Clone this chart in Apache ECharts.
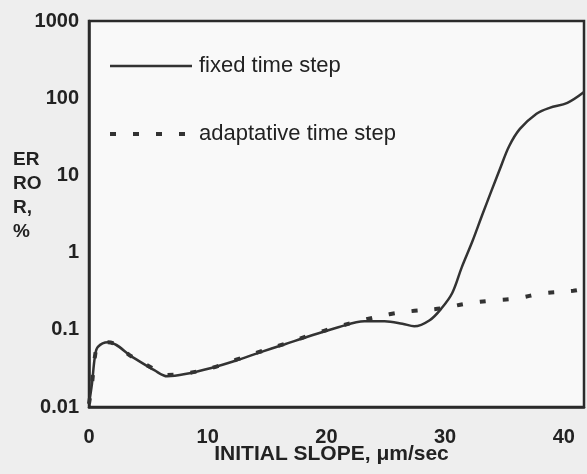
<!DOCTYPE html>
<html>
<head>
<meta charset="utf-8">
<title>Error vs initial slope</title>
<script src="https://cdn.jsdelivr.net/npm/echarts@6/dist/echarts.min.js"></script>
<style>
  html, body { margin: 0; padding: 0; background: #eeeeee; }
  #chart { width: 587px; height: 474px; }
</style>
</head>
<body>
<div id="chart"></div>
<script>
// Relative error (%) against initial slope (µm/sec) for two integration schemes
const seriesNames = ['fixed time step', 'adaptative time step'];

const slopeFixed = [0, 0.25, 0.5, 0.75, 1.6, 3.7, 5.5, 6.6, 8.1, 10.3, 12.4, 14.4,
  16.5, 18.6, 21.0, 23.2, 24.9, 26.4, 27.4, 28.7, 29.7, 30.6, 31.4, 32.3, 33.1,
  33.9, 34.6, 35.4, 36.3, 37.7, 38.8, 40.3, 41.7];
const errorFixed = [0.011, 0.02, 0.045, 0.06, 0.069, 0.044, 0.030, 0.025, 0.0267,
  0.032, 0.040, 0.051, 0.065, 0.083, 0.108, 0.129, 0.129, 0.12, 0.111, 0.133,
  0.19, 0.30, 0.644, 1.4, 3.0, 6.3, 11.9, 24, 40, 63, 75, 87, 120];

const slopeAdaptive = [0, 0.25, 0.5, 0.75, 1.6, 3.7, 5.5, 6.6, 8.1, 10.3, 12.4,
  14.4, 16.5, 18.6, 21.0, 23.2, 25.3, 27.1, 29.7, 31.9, 34.0, 36.0, 38.2, 40.8, 41.7];
const errorAdaptive = [0.011, 0.02, 0.045, 0.061, 0.069, 0.044, 0.031, 0.026,
  0.027, 0.032, 0.041, 0.052, 0.066, 0.085, 0.11, 0.135, 0.159, 0.174, 0.19,
  0.22, 0.24, 0.255, 0.296, 0.32, 0.34];

const xTicks = [0, 10, 20, 30, 40];
const yTicks = [0.01, 0.1, 1, 10, 100, 1000];
const yTitle = 'ER\nRO\nR,\n%';

const zip = (xs, ys) => xs.map((x, i) => [x, ys[i]]);

const ink = '#2b2b2b';
const fontFamily = 'Liberation Sans, Arial, sans-serif';
const labelFont = { fontFamily, fontWeight: 'bold', fontSize: 20, color: '#222' };

const chart = echarts.init(document.getElementById('chart'), null, { renderer: 'canvas' });

chart.setOption({
  backgroundColor: '#eeeeee',
  animation: false,
  grid: {
    left: 89, right: 3, top: 21, bottom: 67,
    containLabel: false,
    outerBoundsMode: 'none',
    show: true,
    backgroundColor: '#f9f9f9',
    borderColor: ink,
    borderWidth: 2.5
  },
  // stacked y-axis title, placed beside the axis labels
  graphic: [{
    type: 'text',
    left: 13,
    top: 148,
    style: {
      text: yTitle,
      font: 'bold 19px ' + fontFamily,
      lineHeight: 24,
      fill: '#222'
    }
  }],
  legend: {
    orient: 'vertical',
    left: 108,
    top: 55,
    padding: 0,
    itemWidth: 82,
    itemHeight: 14,
    itemGap: 46,
    itemStyle: { opacity: 0 },
    data: [
      { name: seriesNames[0], lineStyle: { width: 2.5 } },
      { name: seriesNames[1], lineStyle: { width: 4 } }
    ],
    textStyle: {
      fontFamily,
      fontSize: 22,
      lineHeight: 22,
      color: '#222',
      padding: [0, 0, 0, 2]
    }
  },
  xAxis: {
    type: 'value',
    min: 0,
    max: 41.7,
    interval: 10,
    name: 'INITIAL SLOPE, μm/sec',
    nameLocation: 'middle',
    nameGap: 37,
    nameMoveOverlap: false,
    nameTextStyle: Object.assign({}, labelFont, { fontSize: 21, padding: [0, 10, 0, 0] }),
    axisLine: { lineStyle: { color: ink, width: 2.5 } },
    axisTick: { show: false },
    splitLine: { show: false },
    axisLabel: Object.assign({}, labelFont, {
      margin: 20,
      formatter: v => (xTicks.indexOf(v) >= 0 ? String(v) : '')
    })
  },
  yAxis: {
    type: 'log',
    logBase: 10,
    min: 0.01,
    max: 1000,
    axisLine: { show: true, lineStyle: { color: ink, width: 2.5 } },
    axisTick: { show: false },
    splitLine: { show: false },
    axisLabel: Object.assign({}, labelFont, {
      margin: 10,
      formatter: v => {
        const r = Number(v.toPrecision(3));
        return yTicks.indexOf(r) >= 0 ? String(r) : '';
      }
    })
  },
  series: [
    {
      name: seriesNames[0],
      type: 'line',
      data: zip(slopeFixed, errorFixed),
      symbol: 'none',
      smooth: 0.35,
      lineStyle: { color: '#333', width: 2.5 },
      itemStyle: { color: '#333' },
      z: 2
    },
    {
      name: seriesNames[1],
      type: 'line',
      data: zip(slopeAdaptive, errorAdaptive),
      symbol: 'none',
      smooth: 0.35,
      lineStyle: { color: '#333', width: 4, type: [6, 17], cap: 'butt' },
      itemStyle: { color: '#333' },
      z: 3
    }
  ]
});
</script>
</body>
</html>
